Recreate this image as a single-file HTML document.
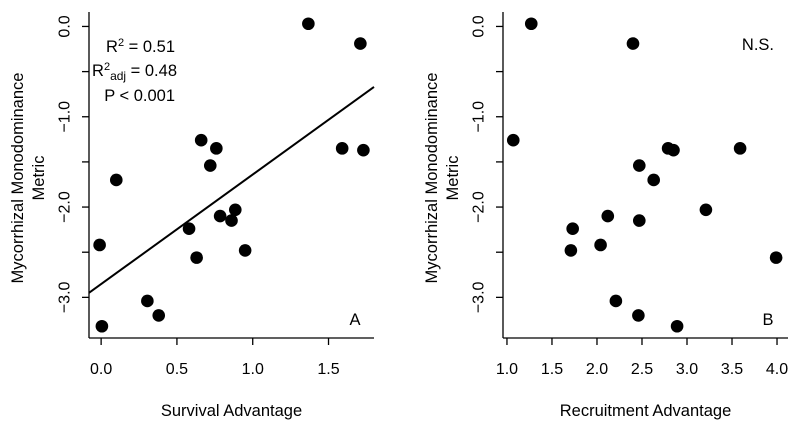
<!DOCTYPE html>
<html><head><meta charset="utf-8"><style>
html,body{margin:0;padding:0;background:#fff;}
svg{display:block;font-family:"Liberation Sans",Arial,sans-serif;}
</style></head><body>
<svg id="chart" width="800" height="433" viewBox="0 0 800 433" xmlns="http://www.w3.org/2000/svg"></svg>
<script>
const survivalX = [1.367,1.71,0.66,0.76,0.72,1.59,1.73,0.10,0.885,0.785,0.86,0.58,-0.01,0.95,0.63,0.305,0.38,0.005];
const metricY = [0.03,-0.19,-1.26,-1.35,-1.54,-1.35,-1.37,-1.70,-2.03,-2.10,-2.15,-2.24,-2.42,-2.48,-2.56,-3.04,-3.20,-3.32];
const recruitX = [1.27,2.40,1.07,2.79,2.85,3.59,2.47,2.63,3.21,2.12,2.47,1.73,2.04,1.71,3.99,2.21,2.46,2.89];
const metricYB = [0.03,-0.19,-1.26,-1.35,-1.37,-1.35,-1.54,-1.70,-2.03,-2.10,-2.15,-2.24,-2.42,-2.48,-2.56,-3.04,-3.20,-3.32];
const fitIntercept = -2.853;
const fitSlope = 1.213;
const yTicks = [0,-0.5,-1,-1.5,-2,-2.5,-3];
const yTickLabels = ["0.0","","\u22121.0","","\u22122.0","","\u22123.0"];
const xTicksA = [0,0.5,1,1.5];
const xTickLabelsA = ["0.0","0.5","1.0","1.5"];
const xTicksB = [1,1.5,2,2.5,3,3.5,4];
const xTickLabelsB = ["1.0","1.5","2.0","2.5","3.0","3.5","4.0"];

const NS="http://www.w3.org/2000/svg";
const svg=document.getElementById('chart');
function mk(tag,attrs,parent,text){const e=document.createElementNS(NS,tag);for(const k in attrs)e.setAttribute(k,attrs[k]);if(text!==undefined)e.textContent=text;(parent||svg).appendChild(e);return e;}

function panel(cfg){
  const g=mk('g',{});
  
  
  const yDom=[-3.45,0.16], yPx=[338,12];
  const sy=v=>yPx[0]+(v-yDom[0])/(yDom[1]-yDom[0])*(yPx[1]-yPx[0]);
  const sx=v=>cfg.x0+(v-cfg.d0)/(cfg.d1-cfg.d0)*(cfg.x1-cfg.x0);
  const ya=mk('line',{x1:cfg.x0,y1:12,x2:cfg.x0,y2:338,stroke:'#000','stroke-width':1.3},g);
  
  
  const xa=mk('line',{x1:cfg.x0,y1:338,x2:cfg.x1,y2:338,stroke:'#000','stroke-width':1.3},g);
  
  
  yTicks.forEach((t,i)=>{
    const y=sy(t);
    mk('line',{x1:cfg.x0-7,y1:y,x2:cfg.x0,y2:y,stroke:'#000','stroke-width':1.3},g);
    if(yTickLabels[i]){
      const lx=cfg.x0-24;
      const tl=mk('text',{x:lx,y:y,'font-size':16,'text-anchor':'middle','dominant-baseline':'central',transform:`rotate(-90 ${lx} ${y})`},g,yTickLabels[i]);
      
      
    }
  });
  cfg.ticks.forEach((t,i)=>{
    const x=sx(t);
    mk('line',{x1:x,y1:338,x2:x,y2:345,stroke:'#000','stroke-width':1.3},g);
    const tl=mk('text',{x:x,y:374,'font-size':16,'text-anchor':'middle'},g,cfg.labels[i]);
    
    
  });
  const cy=178;
  const t1=mk('text',{x:cfg.x0-71,y:cy,'font-size':16.5,'text-anchor':'middle','dominant-baseline':'central',transform:`rotate(-90 ${cfg.x0-71} ${cy})`},g,'Mycorrhizal Monodominance');
  
  
  const t2=mk('text',{x:cfg.x0-50,y:cy,'font-size':16.5,'text-anchor':'middle','dominant-baseline':'central',transform:`rotate(-90 ${cfg.x0-50} ${cy})`},g,'Metric');
  
  
  const xt=mk('text',{x:(cfg.x0+cfg.x1)/2,y:416,'font-size':16.5,'text-anchor':'middle'},g,cfg.xtitle);
  
  
  if(cfg.fit){
    const ln=mk('line',{x1:sx(cfg.d0),y1:sy(fitIntercept+fitSlope*cfg.d0),x2:sx(cfg.d1),y2:sy(fitIntercept+fitSlope*cfg.d1),stroke:'#000','stroke-width':2},g);
    
    
  }
  cfg.xs.forEach((xv,i)=>{
    const c=mk('circle',{cx:sx(xv),cy:sy(cfg.ys[i]),r:6.3,fill:'#000'},g);
    
    
  });
  return {g,sx,sy};
}

const A=panel({name:'panel-a',x0:89,x1:374,d0:-0.08,d1:1.80,ticks:xTicksA,labels:xTickLabelsA,xtitle:'Survival Advantage',xs:survivalX,ys:metricY,fit:true});
const B=panel({name:'panel-b',x0:503,x1:788,d0:0.956,d1:4.122,ticks:xTicksB,labels:xTickLabelsB,xtitle:'Recruitment Advantage',xs:recruitX,ys:metricYB,fit:false});

const r2=mk('text',{x:175,y:52,'font-size':16.5,'text-anchor':'end'},A.g);
r2.innerHTML='R<tspan dy="-6" font-size="11">2</tspan><tspan dy="6"> = 0.51</tspan>';


const r2a=mk('text',{x:177,y:76,'font-size':16.5,'text-anchor':'end'},A.g);
r2a.innerHTML='R<tspan dy="-6" font-size="11">2</tspan><tspan dy="10" font-size="12">adj</tspan><tspan dy="-4"> = 0.48</tspan>';


const pv=mk('text',{x:175,y:101,'font-size':16.5,'text-anchor':'end'},A.g,'P < 0.001');


const la=mk('text',{x:355,y:325,'font-size':16.5,'text-anchor':'middle'},A.g,'A');


const ns=mk('text',{x:774,y:50,'font-size':16.5,'text-anchor':'end'},B.g,'N.S.');


const lb=mk('text',{x:768,y:325,'font-size':16.5,'text-anchor':'middle'},B.g,'B');


</script>
</body></html>
